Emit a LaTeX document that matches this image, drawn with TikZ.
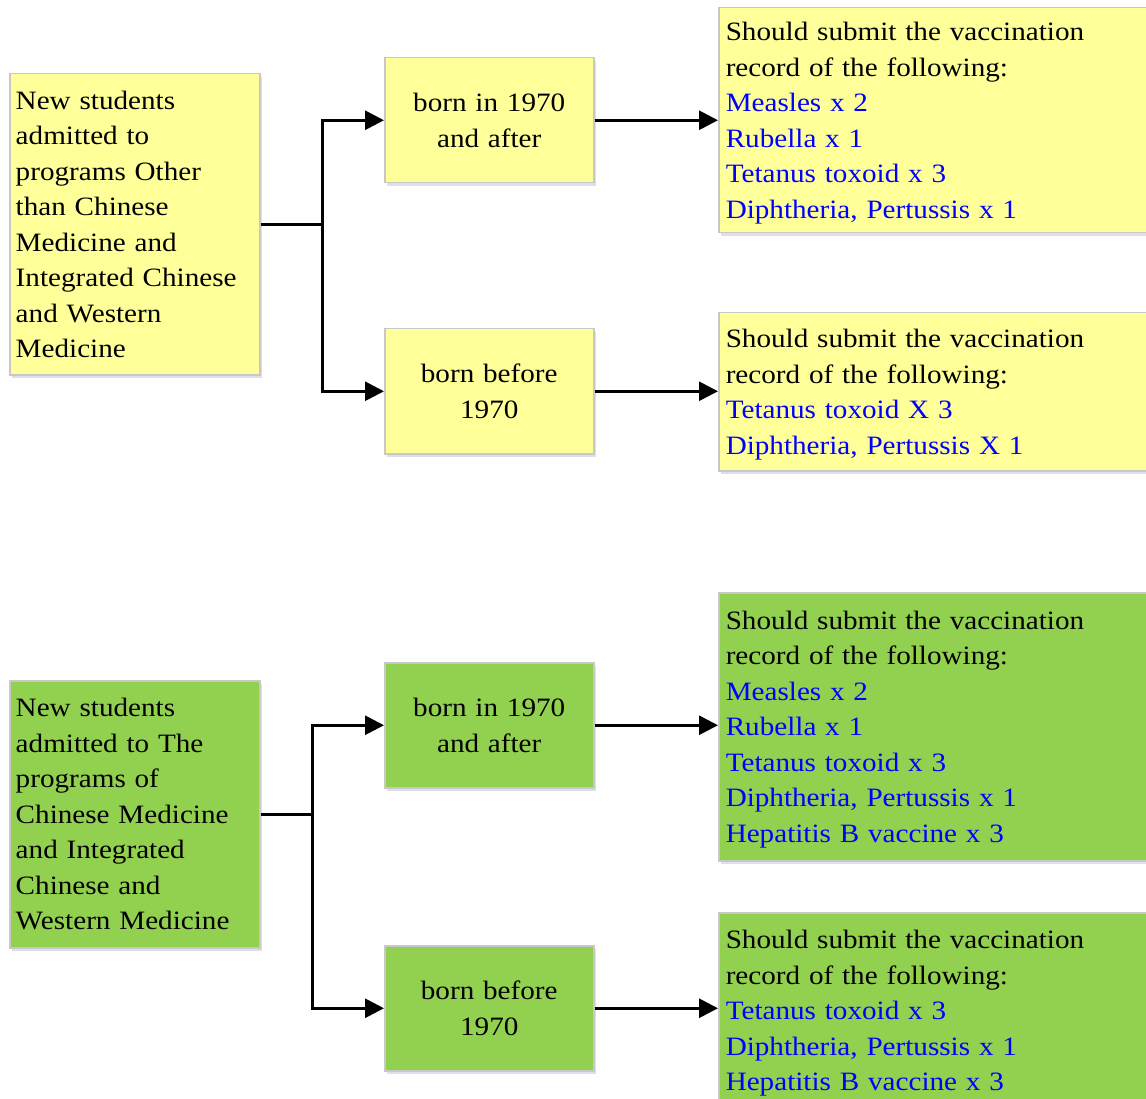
\documentclass[tikz,border=0pt]{standalone}
\usepackage{fontspec}
\setmainfont{Liberation Serif}[FakeStretch=1.10]
\usetikzlibrary{arrows.meta,shadows}
\definecolor{paleyellow}{HTML}{FFFF99}
\definecolor{leafgreen}{HTML}{92D050}
\definecolor{edgegray}{HTML}{C8C8C8}
\newcommand{\vacc}[1]{\textcolor{blue}{#1}}
\newcommand{\topstrut}{\rule{0pt}{28.8pt}}
\tikzset{
  box/.style={draw=edgegray, line width=1.5pt, anchor=north west, inner xsep=6pt, inner ysep=0pt,
    font=\fontsize{26.5}{35.5}\selectfont,
    drop shadow={shadow xshift=2pt, shadow yshift=-3pt, fill=blue!30!gray, opacity=0.2}},
  groupbox/.style={box, align=left, text width=238pt, minimum width=250pt},
  agebox/.style={box, align=center, text width=197pt, minimum width=209pt, minimum height=125pt},
  recordbox/.style={box, inner xsep=7pt, align=left, text width=426pt, minimum width=440pt},
  link/.style={line width=2.8pt},
  arr/.style={link, -{Triangle[length=19pt,width=19pt]}}
}
\begin{document}
\begin{tikzpicture}[x=1pt,y=-1pt]
\useasboundingbox (0,0) rectangle (1146,1099);
% programs other than Chinese medicine
\node[groupbox, fill=paleyellow, minimum height=301pt] (new1) at (9,73)
  {\topstrut New students\\admitted to\\programs Other\\than Chinese\\Medicine and\\Integrated Chinese\\and Western\\Medicine\strut};
\node[agebox, fill=paleyellow] (after1) at (384,57) {\topstrut born in 1970\\and after\strut};
\node[agebox, fill=paleyellow] (before1) at (384,328) {\topstrut born before\\1970\strut};
\node[recordbox, fill=paleyellow, minimum height=225pt] (rec1) at (718,7)
  {\topstrut Should submit the vaccination\\record of the following:\\\vacc{Measles x 2}\\\vacc{Rubella x 1}\\\vacc{Tetanus toxoid x 3}\\\vacc{Diphtheria, Pertussis x 1}\strut};
\node[recordbox, fill=paleyellow, minimum height=158pt] (rec2) at (718,312)
  {\topstrut Should submit the vaccination\\record of the following:\\\vacc{Tetanus toxoid X 3}\\\vacc{Diphtheria, Pertussis X 1}\strut};
\draw[link] (new1.east) -- ++(62,0) coordinate (j1);
\draw[arr] (j1) |- (after1.west);
\draw[arr] (j1) |- (before1.west);
\draw[arr] (after1.east) -- (after1.east -| rec1.west);
\draw[arr] (before1.east) -- (before1.east -| rec2.west);
% Chinese medicine programs
\node[groupbox, fill=leafgreen, minimum height=267pt] (new2) at (9,680)
  {\topstrut New students\\admitted to The\\programs of\\Chinese Medicine\\and Integrated\\Chinese and\\Western Medicine\strut};
\node[agebox, fill=leafgreen] (after2) at (384,662) {\topstrut born in 1970\\and after\strut};
\node[agebox, fill=leafgreen] (before2) at (384,945) {\topstrut born before\\1970\strut};
\node[recordbox, fill=leafgreen, minimum height=268pt] (rec3) at (718,592)
  {\topstrut Should submit the vaccination\\record of the following:\\\vacc{Measles x 2}\\\vacc{Rubella x 1}\\\vacc{Tetanus toxoid x 3}\\\vacc{Diphtheria, Pertussis x 1}\\\vacc{Hepatitis B vaccine x 3}\strut};
\node[recordbox, fill=leafgreen, minimum height=196pt] (rec4) at (718,912)
  {\topstrut Should submit the vaccination\\record of the following:\\\vacc{Tetanus toxoid x 3}\\\vacc{Diphtheria, Pertussis x 1}\\\vacc{Hepatitis B vaccine x 3}\strut};
\draw[link] (new2.east) -- ++(52,0) coordinate (j2);
\draw[arr] (j2) |- (after2.west);
\draw[arr] (j2) |- (before2.west);
\draw[arr] (after2.east) -- (after2.east -| rec3.west);
\draw[arr] (before2.east) -- (before2.east -| rec4.west);
\end{tikzpicture}
\end{document}
